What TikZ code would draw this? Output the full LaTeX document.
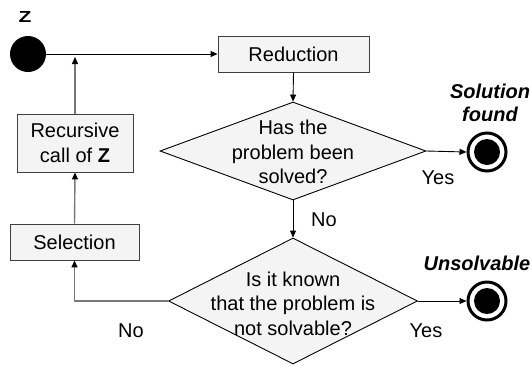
\documentclass[tikz,border=0pt]{standalone}
\usepackage{fontspec}
\setmainfont{Liberation Sans}
\usetikzlibrary{shapes.geometric,arrows.meta}
\definecolor{boxfill}{HTML}{F4F4F4}
\definecolor{boxline}{HTML}{404040}
\definecolor{sideline}{HTML}{787878}
\tikzset{
  every node/.style={font=\fontsize{20}{24.5}\selectfont},
  procbox/.style={draw=boxline, fill=boxfill, line width=0.9pt, inner sep=0pt, align=center},
  decision/.style={diamond, draw=black, fill=boxfill, line width=0.9pt, inner sep=0pt},
  flow/.style={draw=black, line width=0.9pt, -{Triangle[length=7pt,width=6pt]}},
  backflow/.style={draw=sideline, line width=1.4pt, -{Triangle[length=7pt,width=6pt,fill=black,color=black]}},
  startstate/.style={circle, fill=black, minimum size=36pt, inner sep=0pt},
  endring/.style={circle, draw=black, fill=white, line width=3pt, minimum size=38pt, inner sep=0pt},
  enddot/.style={circle, fill=black, minimum size=26pt, inner sep=0pt},
  bolditlabel/.style={font=\fontsize{20}{23}\selectfont\bfseries\itshape, align=center},
  namelabel/.style={inner sep=0pt, xscale=1.05, yscale=0.8},
}
\begin{document}
\begin{tikzpicture}[x=1pt, y=-1pt]
  \useasboundingbox (0,0) rectangle (532,365);

  % start state and its name
  \node[startstate] (start) at (28,54) {};
  \node[namelabel] (zname) at (25,16.5) {\textbf{Z}};

  % processing steps
  \node[procbox, minimum width=151pt, minimum height=36pt] (red) at (293.5,54) {Reduction};
  \node[procbox, minimum width=116pt, minimum height=58pt] (rec) at (75,143) {Recursive\\call of \textbf{Z}};
  \node[procbox, minimum width=129pt, minimum height=36pt] (sel) at (74.5,242) {Selection};

  % decisions
  \node[decision, minimum width=266pt, minimum height=98pt] (d1) at (293,151) {};
  \node[align=center] (d1text) at (293,152) {Has the\\problem been\\solved?};
  \node[decision, minimum width=249pt, minimum height=126pt] (d2) at (293,301) {};
  \node[align=center] (d2text) at (293,303.5) {Is it known\\that the problem is\\not solvable?};

  % final states
  \node[endring] (solved) at (487,152) {};
  \node[enddot] (solveddot) at (solved) {};
  \node[endring] (unsolv) at (487,301) {};
  \node[enddot] (unsolvdot) at (unsolv) {};
  \node[bolditlabel] (solvedname) at (490,102.5) {Solution\\found};
  \node[bolditlabel] (unsolvname) at (477,263) {Unsolvable};

  % main flow
  \draw[flow] (start.east) -- (red.west);
  \draw[flow] (red.south) -- (d1.north);
  \draw[flow] (d1.east) -- (solved.west);
  \draw[flow] (d1.south) -- (d2.north);
  \draw[flow] (d2.east) -- (unsolv.west);

  % recursion back to the start
  \coordinate (join) at (75,57);
  \draw[backflow] (d2.west) -| (sel.south);
  \draw[backflow] (sel.north) -- (rec.south);
  \draw[backflow] (rec.north) -- (join);

  % branch labels
  \node (yes1) at (438,178) {Yes};
  \node (no1) at (324,220) {No};
  \node (yes2) at (426,331) {Yes};
  \node (no2) at (131,331) {No};
\end{tikzpicture}
\end{document}
